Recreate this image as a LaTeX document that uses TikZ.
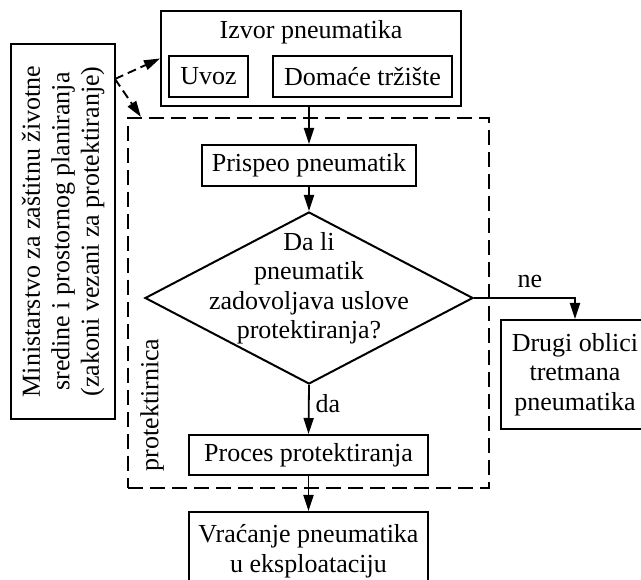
\documentclass[tikz,border=0pt]{standalone}
\usepackage{fontspec}
\setmainfont{Liberation Serif}
\usetikzlibrary{shapes.geometric,arrows.meta,calc}
\begin{document}
\begin{tikzpicture}[x=1pt,y=-1pt,
  every node/.style={font=\fontsize{26}{29.5}\selectfont, text=black},
  box/.style={draw, line width=2pt, inner sep=0pt, align=center},
  arr/.style={line width=1.8pt, -{Triangle[length=16pt,width=10pt]}},
  darr/.style={line width=1.9pt, dash pattern=on 9pt off 5pt, -{Triangle[length=16pt,width=10pt]}},
  lbl/.style={inner sep=0pt, align=center}
]
\useasboundingbox (0,0) rectangle (641,580);
\clip (0,0) rectangle (641,580);
\fill[white] (0,0) rectangle (641,580);

% source box
\node[box, minimum width=300pt, minimum height=95pt] (izvor) at (311,58.5) {};
\node[lbl] (izvorlbl) at (311,32) {Izvor pneumatika};
\node[box, minimum width=79pt, minimum height=41pt] (uvoz) at (208.5,76.5) {Uvoz};
\node[box, minimum width=179pt, minimum height=41pt] (domace) at (362.5,76.5) {Domaće tržište};

% ministry
\node[box, rotate=90, minimum width=375pt, minimum height=104pt] (min) at (63,231.5)
  {Ministarstvo za zaštitnu životne\\ sredine i prostornog planiranja\\ (zakoni vezani za protektiranje)};

% dashed frame
\node[draw, line width=2.2pt, dash pattern=on 15pt off 7pt, minimum width=361pt,
  minimum height=370pt, inner sep=0pt] (frame) at (308.5,303) {};
\node[lbl, rotate=90] (prot) at (152,405) {protektirnica};

% flow
\node[box, minimum width=214pt, minimum height=41pt] (prispeo) at (309,165.5) {Prispeo pneumatik};
\node[diamond, draw, line width=2pt, minimum width=328pt, minimum height=172pt, inner sep=0pt] (q) at (309,298) {};
\node[lbl] (qtext) at (309,288) {Da li\\ pneumatik\\ zadovoljava uslove\\ protektiranja?};
\node[box, minimum width=148pt, minimum height=109pt] (drugi) at (575,374.5) {Drugi oblici\\ tretmana\\ pneumatika};
\node[box, minimum width=239pt, minimum height=40pt] (proces) at (308.5,455) {Proces protektiranja};
\node[box, minimum width=239pt, minimum height=78pt] (vracanje) at (308.5,551) {Vraćanje pneumatika\\ u eksploataciju};

\node[lbl] (ne) at (530,282) {ne};
\node[lbl] (da) at (328,404) {da};

% connectors
\draw[arr] (prispeo.north |- izvor.south) -- (prispeo.north);
\draw[arr] (prispeo.south) -- (q.north);
\draw[arr] (q.east) -| (drugi.north);
\draw[arr] (q.south) -- (proces.north);
\draw[arr] (proces.south) -- (vracanje.north);

\coordinate (mstart) at (115,79);
\draw[darr] (mstart) -- (izvor.west);
\draw[darr] (mstart) -- ([xshift=14pt]frame.north west);
\end{tikzpicture}
\end{document}
